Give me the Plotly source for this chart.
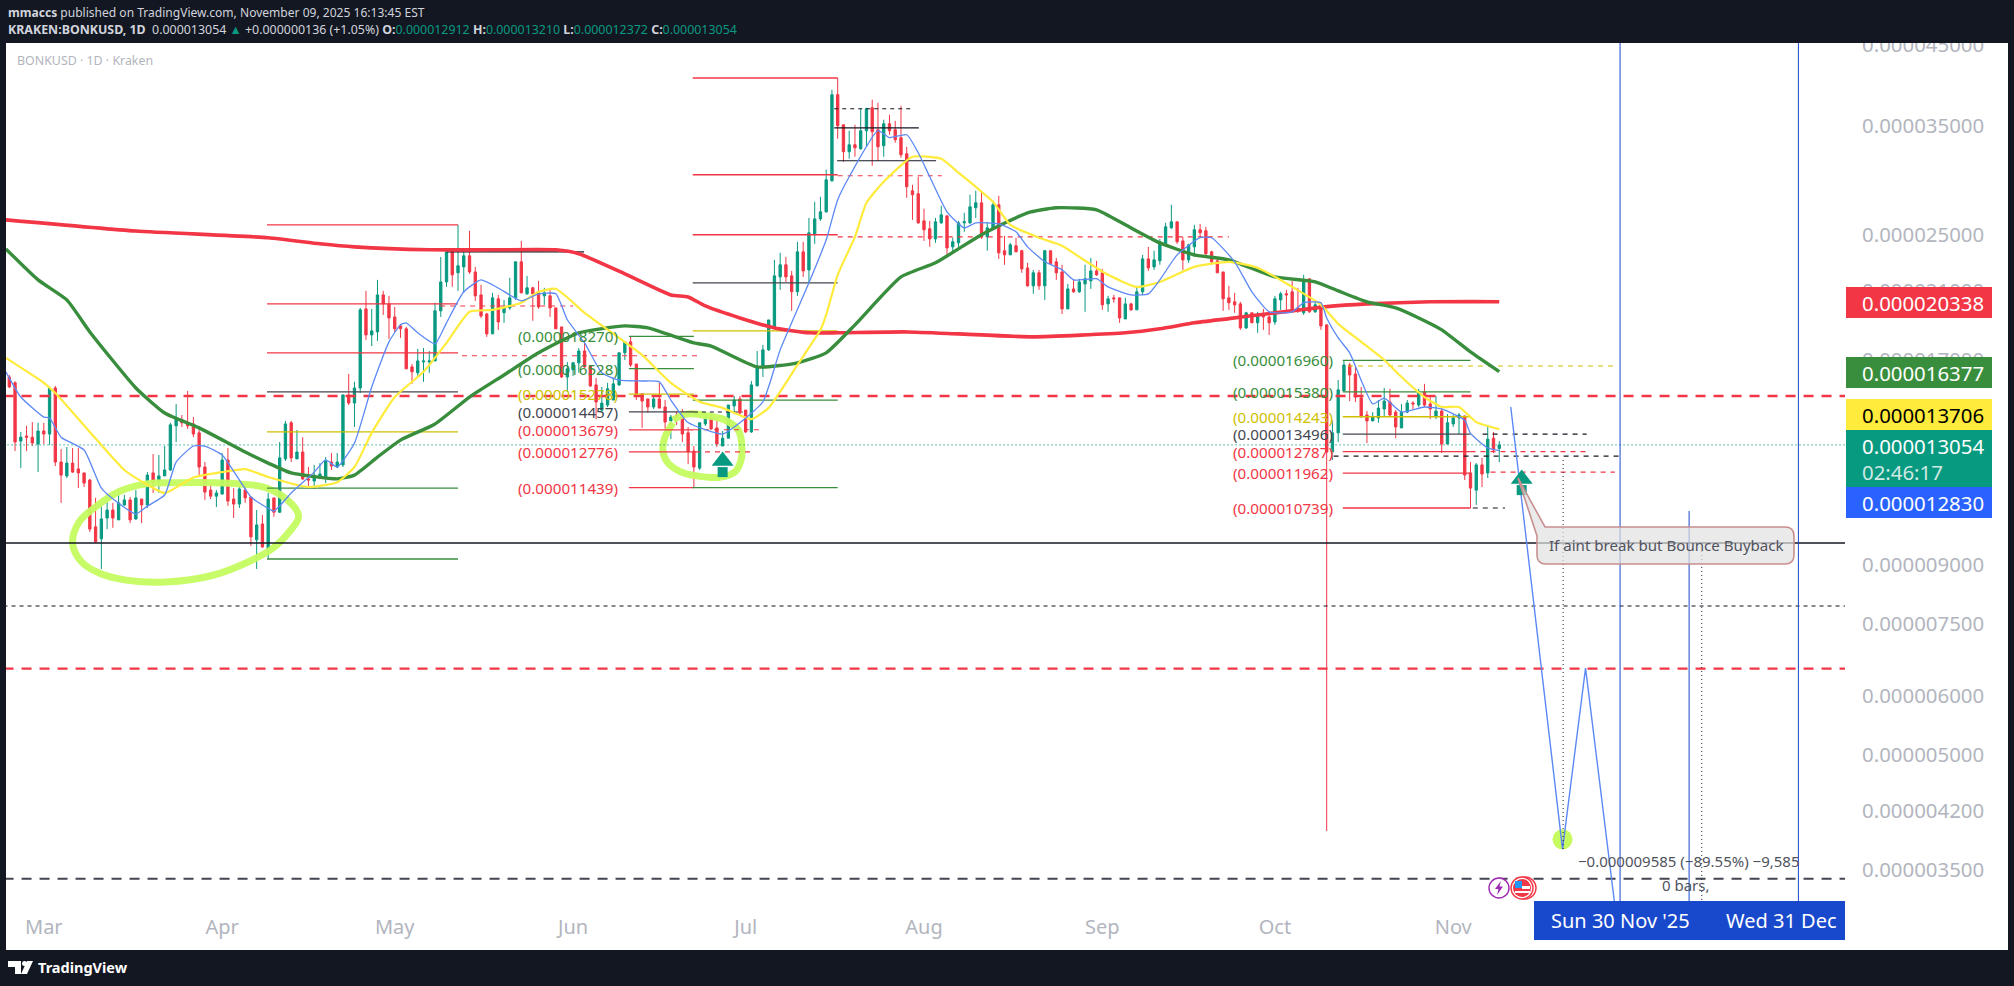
import datetime as dt
import numpy as np
import plotly.graph_objects as go

# prices are kept in millionths of a dollar, PRICE_UNIT turns them back
PRICE_UNIT = 1e-6
START = dt.datetime(2025, 2, 23)

opens = [16.11,15.82,13.21,13.42,13.37,13.09,13.63,13.50,15.57,12.38,
11.86,12.34,12.12,11.97,11.71,10.13,9.76,10.41,10.67,10.35,
10.84,11.01,10.38,11.04,10.84,11.97,11.64,11.86,12.08,13.85,
14.10,13.98,13.93,13.55,12.19,11.35,11.14,11.21,12.46,11.04,
10.87,11.35,11.11,9.73,10.22,9.46,11.08,10.60,12.50,13.98,
12.50,12.77,11.75,11.67,11.78,11.78,12.38,12.19,12.27,15.24,
14.86,15.57,19.89,18.35,18.52,20.77,20.20,19.40,18.87,18.70,
16.62,16.32,16.88,16.88,16.93,19.77,21.62,23.88,22.24,22.65,
23.44,22.30,20.77,19.58,18.41,20.52,19.65,19.95,20.58,23.01,
20.84,21.23,20.90,20.71,20.71,19.95,18.81,16.11,16.47,16.83,
17.46,16.67,15.72,14.54,14.77,15.00,15.72,17.36,17.96,16.77,
15.29,15.05,14.68,15.05,14.68,14.06,14.32,14.23,13.55,12.81,
12.15,13.93,14.19,13.76,13.01,13.33,14.73,15.05,14.54,13.59,
15.67,16.57,17.52,18.81,21.96,22.80,22.03,20.97,23.73,22.44,
25.02,26.28,26.86,29.57,38.60,35.17,32.35,33.06,32.65,34.52,
37.08,34.63,32.96,35.28,34.63,33.79,32.15,28.67,28.41,26.12,
25.49,24.70,25.96,26.53,24.10,24.40,25.96,25.96,27.20,27.62,
24.86,25.49,27.45,23.81,23.51,24.18,23.81,22.58,21.36,22.24,
21.36,23.81,23.01,22.30,19.89,21.16,20.97,21.49,21.69,22.37,
22.24,20.20,20.58,20.58,19.28,20.20,19.83,20.97,23.22,22.65,
23.08,24.33,25.56,26.04,24.55,23.15,24.10,25.41,25.33,23.73,
23.08,22.30,20.58,20.33,20.20,18.75,19.65,19.05,19.58,19.40,
19.10,20.45,20.84,20.97,19.95,19.65,21.83,19.71,20.14,18.93,
12.77,13.55,15.43,16.72,16.26,15.10,14.32,14.06,14.19,14.59,
14.91,14.45,13.76,14.45,14.86,14.77,15.38,14.82,14.28,14.50,
13.09,13.93,14.19,14.28,11.97,11.35,12.27,11.97,13.33,12.912]

highs = [16.21,15.90,13.59,13.85,14.01,13.98,13.98,15.57,15.67,12.89,
12.97,12.93,12.93,11.97,11.75,11.08,10.77,10.94,10.91,11.35,
11.18,11.11,11.35,11.04,12.00,12.69,12.65,13.01,13.98,14.82,
14.32,15.43,14.23,13.80,12.38,11.60,11.35,12.73,12.93,11.42,
11.46,11.53,11.11,10.67,10.51,11.25,11.08,13.17,14.06,14.06,
13.67,13.37,12.19,12.27,12.34,12.57,12.73,12.73,15.24,16.26,
15.87,19.95,21.03,19.89,21.76,21.03,20.71,20.01,18.99,18.81,
16.77,17.57,17.62,17.46,20.27,23.36,23.95,23.88,25.80,23.73,
25.33,22.65,21.43,19.65,20.90,20.77,20.45,21.90,23.01,24.55,
22.03,21.30,21.69,21.23,21.10,19.95,18.81,16.88,16.88,17.62,
18.07,16.72,16.06,15.62,15.82,16.06,17.41,17.96,18.24,16.77,
15.29,15.05,15.19,15.82,15.00,14.32,14.50,14.59,13.80,13.01,
13.98,14.45,14.36,14.10,13.63,14.77,15.19,15.19,14.54,15.91,
17.46,17.79,19.22,23.15,23.66,23.36,22.37,24.48,24.48,26.36,
27.71,28.14,30.60,39.20,40.65,35.17,34.52,35.17,36.96,37.08,
38.00,37.65,35.72,36.28,35.61,37.30,32.85,29.21,29.94,27.12,
26.12,26.36,27.37,26.53,24.79,26.12,26.78,28.32,28.67,28.50,
26.04,27.80,28.23,24.94,24.40,24.79,23.88,22.94,22.44,22.44,
23.88,23.81,23.29,22.80,21.49,21.76,21.83,22.80,23.29,23.08,
22.51,20.71,20.77,20.58,20.58,20.27,21.30,23.51,24.10,23.81,
24.70,25.96,27.45,26.04,24.86,24.33,25.80,25.88,25.64,23.81,
23.22,22.30,21.36,20.90,20.33,19.71,19.65,19.71,19.89,19.58,
20.71,20.97,21.10,21.69,21.23,22.10,21.83,20.45,20.27,18.93,
14.10,15.96,16.93,16.83,16.62,15.62,14.50,14.45,15.00,15.57,
15.53,14.54,14.82,15.00,14.95,15.53,15.77,15.14,15.19,14.59,
14.36,14.32,14.41,14.28,12.38,12.34,12.54,13.80,13.59,13.21]

lows = [15.57,12.81,12.15,12.81,13.01,12.00,13.09,13.05,12.23,10.91,
11.78,11.97,11.42,11.46,9.97,9.64,8.89,10.06,10.10,10.35,
10.81,10.25,10.35,10.25,10.74,11.25,11.25,11.86,12.04,13.17,
13.80,13.72,13.37,11.89,11.01,11.04,10.77,11.21,10.81,10.41,
10.74,10.91,9.55,8.89,9.49,9.17,10.45,10.57,12.42,12.38,
12.50,11.71,11.42,11.39,11.75,11.60,12.08,12.15,12.19,14.77,
13.80,15.33,18.07,17.73,18.01,19.52,18.12,18.52,18.18,16.52,
15.77,16.16,15.87,16.32,16.93,19.40,21.30,21.30,21.03,20.90,
22.17,20.39,19.34,18.24,18.41,18.64,19.05,19.83,20.45,20.90,
20.77,19.17,19.89,20.14,19.40,18.70,16.06,15.38,16.16,16.32,
16.57,15.62,14.14,14.45,14.68,15.00,15.67,16.98,16.62,15.00,
13.76,14.41,14.59,14.63,13.72,13.29,13.89,13.17,12.30,11.46,
12.08,13.85,13.67,12.97,13.01,13.33,14.36,14.32,13.55,13.55,
15.67,16.11,17.46,18.75,21.10,21.62,19.77,20.71,21.96,21.56,
24.33,26.12,26.78,29.48,33.68,31.36,31.66,31.85,32.55,32.85,
30.98,31.46,31.85,34.10,33.27,31.75,28.05,26.20,25.88,24.55,
24.10,24.40,25.88,23.44,23.59,24.10,25.25,25.88,26.36,24.70,
23.81,25.49,23.22,22.80,23.51,23.73,22.24,21.30,20.84,21.10,
20.45,22.80,21.76,19.58,19.89,20.90,20.90,19.71,21.16,22.03,
19.83,19.71,20.27,19.05,19.28,19.77,19.83,20.77,22.37,22.44,
22.80,24.10,25.49,24.33,22.44,22.94,23.36,24.79,23.51,22.80,
22.24,19.77,19.83,19.65,18.64,18.70,19.05,18.47,18.64,18.35,
18.93,19.83,19.83,19.71,19.65,19.52,19.65,19.65,18.64,3.95,
12.46,13.17,15.43,14.95,14.91,14.19,13.13,14.06,13.98,14.28,
14.28,13.33,13.76,14.41,14.59,14.68,14.68,14.14,14.14,12.73,
13.09,13.80,13.50,11.71,10.74,10.84,11.46,11.78,12.73,12.372]

closes = [15.62,13.17,13.37,13.37,13.13,13.63,13.50,15.57,12.38,11.89,
12.34,12.00,11.97,11.60,10.06,9.67,10.38,10.67,10.41,10.91,
11.01,10.35,11.08,10.84,11.89,11.60,11.86,12.08,13.89,14.14,
13.98,13.85,13.50,12.19,11.28,11.14,11.25,12.46,10.97,10.87,
11.39,11.08,9.82,10.19,9.52,11.04,10.60,12.54,13.93,12.54,
12.77,11.75,11.71,11.89,11.93,12.42,12.23,12.38,15.24,14.86,
15.57,19.83,18.35,18.58,20.77,20.20,19.34,18.70,18.70,16.52,
16.37,16.93,16.93,16.93,19.77,21.62,23.73,22.10,22.73,23.44,
22.30,20.71,19.46,18.41,20.58,19.10,20.01,20.58,23.01,20.90,
21.23,20.84,20.01,20.90,19.95,18.70,16.11,16.52,16.83,17.46,
16.62,15.67,14.91,14.86,15.53,15.77,17.36,17.96,16.72,15.29,
14.95,14.68,15.05,14.63,14.01,14.23,14.19,13.50,12.77,12.19,
13.98,14.19,13.72,13.09,13.33,14.77,15.00,14.41,13.59,15.72,
16.62,17.52,19.22,22.03,22.80,21.96,20.97,23.73,22.37,25.17,
26.28,26.86,29.66,38.60,35.06,32.35,33.06,32.75,34.52,36.96,
34.42,32.85,35.28,34.52,33.58,32.05,29.03,28.32,25.96,25.41,
24.70,26.04,26.61,24.02,24.48,25.96,26.04,27.28,27.62,24.86,
25.56,27.45,23.66,23.51,24.25,23.73,22.51,21.36,22.24,21.36,
23.81,22.87,22.24,19.89,21.16,20.97,21.62,21.83,22.37,22.10,
20.14,20.52,20.52,19.34,20.20,19.83,20.97,23.22,22.58,23.15,
24.48,25.64,26.04,24.48,23.15,24.25,25.41,25.17,23.59,23.01,
22.24,20.52,20.27,20.14,18.75,19.65,19.05,19.58,19.40,19.05,
20.52,20.84,20.77,19.89,19.77,21.76,19.71,20.14,18.87,12.77,
13.55,15.48,16.72,16.21,15.14,14.28,14.06,14.23,14.63,14.95,
14.32,13.80,14.45,14.86,14.82,15.33,14.77,14.59,14.50,13.09,
13.98,14.19,14.32,11.89,11.42,12.27,11.93,13.29,12.85,13.054]

# moving averages at the day numbers given (0 = first candle)
red_days = [-0.6,22,45,54,60,73,84,95,99,107,115,118,121,127,133,139,144,156,165,178,194,200,206,212,217,223,229,236,247,259]
red_vals = [26.20,25.31,24.79,24.33,24.10,23.88,23.88,23.88,23.59,22.17,20.77,20.64,20.07,19.34,18.75,18.47,18.47,18.52,18.41,18.24,18.47,18.70,19.05,19.30,19.52,19.77,20.03,20.20,20.33,20.338]

green_days = [-0.6,5,10,14,22,27,33,41,45,49,57,60,64,68,74,80,86,92,99,107,111,119,122,130,137,142,147,155,161,169,177,182,189,194,200,206,212,220,227,231,236,241,245,249,254,259]
green_vals = [23.95,21.76,20.45,18.52,15.57,14.41,13.76,12.77,12.34,11.97,11.75,11.89,12.57,13.25,13.93,15.14,16.21,17.36,18.47,18.87,18.75,17.90,17.73,16.62,16.83,17.36,18.93,21.96,22.94,25.02,26.78,27.20,27.03,25.80,24.40,23.51,23.15,21.96,21.63,21.03,20.33,19.95,19.34,18.64,17.41,16.377]

yellow_days = [-0.6,6,8,14,20,23,27,32,37,41,45,52,57,60,63,67,72,76,80,84,89,92,95,100,106,110,115,120,124,129,132,137,141,142,144,147,149,152,157,162,165,168,171,174,179,183,186,191,196,200,206,212,217,223,228,231,235,239,242,246,249,252,255,259]
yellow_vals = [17.09,15.82,15.33,13.59,12.08,11.66,11.25,11.80,12.00,12.11,11.82,11.46,11.63,12.19,13.55,15.14,16.37,17.90,19.71,19.83,20.27,20.97,21.17,19.65,18.18,17.25,15.82,14.92,14.64,14.14,14.64,16.72,18.64,19.52,22.10,24.86,27.62,29.49,31.85,31.65,30.31,29.02,27.71,25.80,24.79,24.19,23.36,22.10,21.29,21.62,22.65,23.01,22.59,21.29,20.14,18.99,17.96,16.98,16.11,15.14,14.68,14.68,14.01,13.706]

blue_days = [-0.6,2,6,7,9,13,16,19,22,24,27,29,32,34,37,42,44,46,49,53,55,57,60,63,66,68,69,71,74,76,79,82,85,89,92,95,97,100,103,106,110,113,115,118,124,127,131,134,139,142,144,146,151,153,156,158,160,163,166,168,172,175,177,180,183,185,189,191,195,198,200,203,207,209,213,216,219,223,225,228,229,231,233,237,239,242,246,249,253,254,257,259]
blue_vals = [16.37,15.14,14.23,14.19,13.37,12.85,11.42,10.90,10.54,10.80,11.18,12.38,13.01,13.01,12.65,11.11,10.84,10.64,11.25,12.00,12.46,12.19,13.13,15.62,17.96,18.93,19.05,18.47,17.85,19.05,20.97,21.76,21.22,20.39,20.84,20.84,19.23,17.90,16.32,15.95,15.91,15.87,15.00,13.99,13.50,13.98,14.92,17.52,21.56,24.63,27.88,29.94,34.53,33.80,34.10,32.25,29.94,26.86,25.56,25.96,25.88,25.25,24.10,23.01,22.45,21.76,21.84,21.29,20.77,20.84,21.76,23.51,24.79,24.79,23.01,20.97,19.71,19.71,20.27,20.27,19.34,18.18,17.36,14.82,15.09,14.45,14.68,14.59,14.09,13.53,12.93,12.83]

# drawn forecast path
path_days = [261,270,274,279]
path_vals = [14.68,3.736,6.54,3.18]

# hand drawn rings
ring1_days = [49.0,50.3,48.7,45.8,41.7,35.4,27.2,20.3,15.6,12.5,11.0,12.2,15.1,19.1,23.8,29.6,35.4,40.0,44.6,49.0]
ring1_vals = [10.89,10.46,9.98,9.48,9.10,8.72,8.54,8.59,8.78,9.10,9.63,10.30,10.79,11.30,11.57,11.61,11.61,11.57,11.43,10.89]
ring2_days = [115.4,114.0,113.6,114.3,116.6,119.5,123.5,126.2,127.2,127.3,126.7,124.4,121.2,117.7,115.4]
ring2_vals = [13.98,13.39,12.85,12.40,12.02,11.86,11.81,12.02,12.46,13.13,13.67,14.10,14.29,14.36,14.10]

# fibonacci style levels
fib2_vals = [18.270,16.528,15.278,14.457,13.679,12.776,11.439]
fib2_text = ["(0.000018270)","(0.000016528)","(0.000015278)","(0.000014457)","(0.000013679)","(0.000012776)","(0.000011439)"]
fib4_vals = [16.960,15.380,14.243,13.496,12.787,11.962,10.739]
fib4_text = ["(0.000016960)","(0.000015380)","(0.000014243)","(0.000013496)","(0.000012787)","(0.000011962)","(0.000010739)"]
fib1_vals = [25.80,20.20,17.36,15.38,13.59,11.42,9.17]
fib3_vals = [40.65,30.13,25.02,21.56,18.58,15.00,11.44]

tick_vals = [45000,35000,25000,21000,17000,9000,7500,6000,5000,4200,3500]
tick_text = ["0.000045000","0.000035000","0.000025000","0.000021000","0.000017000","0.000009000","0.000007500","0.000006000","0.000005000","0.000004200","0.000003500"]
month_days = [6,37,67,98,128,159,190,220,251]
month_text = ["Mar","Apr","May","Jun","Jul","Aug","Sep","Oct","Nov"]

RED = "#f23645"
GREEN = "#388e3c"
YELLOW = "#ffeb3b"
OLIVE = "#cfc000"
DARK = "#434651"
TEAL = "#089981"
MA_BLUE = "#5c88f5"
LINE_BLUE = "#1848cc"
LIME = "#c6fb60"
FRAME = "#131722"
FONT = "Noto Sans"


def day(i):
    return (START + dt.timedelta(days=float(i))).strftime("%Y-%m-%d %H:%M:%S")


def prices(vals):
    return [v * PRICE_UNIT for v in vals]


def px(x):
    return (x - 6) / 1839


def py(y):
    return (901 - y) / 858


dates = [day(i) for i in range(len(closes))]

fig = go.Figure()


def segment(d0, d1, val, color, dash="solid", width=1.3):
    fig.add_trace(go.Scatter(x=[day(d0), day(d1)], y=prices([val, val]), mode="lines",
                             line=dict(color=color, dash=dash, width=width),
                             hoverinfo="skip", showlegend=False))


def vertical(d, v0, v1, color, dash="solid", width=1.0):
    fig.add_trace(go.Scatter(x=[day(d), day(d)], y=prices([v0, v1]), mode="lines",
                             line=dict(color=color, dash=dash, width=width),
                             hoverinfo="skip", showlegend=False))


# rings sit under everything else that is a line
for rd, rv in [(ring1_days, ring1_vals), (ring2_days, ring2_vals)]:
    fig.add_trace(go.Scatter(x=[day(d) for d in rd], y=prices(rv), mode="lines",
                             line=dict(color=LIME, width=7, shape="spline"),
                             opacity=0.95, hoverinfo="skip", showlegend=False))

fig.add_trace(go.Candlestick(x=dates, open=prices(opens), high=prices(highs), low=prices(lows), close=prices(closes),
                             increasing=dict(line=dict(color=TEAL, width=1), fillcolor=TEAL),
                             decreasing=dict(line=dict(color=RED, width=1), fillcolor=RED),
                             whiskerwidth=0, showlegend=False))

# full width levels
segment(-1, 320, 15.19, RED, "10px,8px", 2.6)
segment(-1, 320, 9.634, "#131722", "solid", 1.4)
segment(-1, 320, 7.93, "#131722", "4px,4px", 1.1)
segment(-1, 320, 6.53, RED, "10px,8px", 2.2)
segment(-1, 320, 3.408, DARK, "10px,8px", 2.2)
segment(-1, 320, 13.054, TEAL, "1px,3px", 1.2)

# first fib, april to may
fib_colors = [RED, RED, RED, DARK, OLIVE, GREEN, GREEN]
for v, c in zip(fib1_vals, fib_colors):
    segment(44.8, 78.0, v, c)
segment(76.1, 99.9, 23.73, "#131722", "solid", 1.2)
segment(74.9, 98.0, 20.07, RED, "5px,5px", 1.1)
segment(78.7, 119.9, 17.20, RED, "5px,5px", 1.1)

# june fib with its labels
fib2_colors = [GREEN, GREEN, OLIVE, DARK, RED, RED, RED]
for v, c in zip(fib2_vals, fib2_colors):
    segment(107.7, 119.0, v, c)
segment(119.0, 127.5, 14.457, "#131722", "4px,4px", 1.1)
segment(119.0, 131.0, 13.679, RED, "5px,5px", 1.1)
segment(119.2, 128.8, 12.776, RED, "5px,5px", 1.1)

# july fib
for v, c in zip(fib3_vals, fib_colors):
    segment(118.8, 144.0, v, c)
segment(143.4, 157.3, 36.96, "#131722", "4px,4px", 1.1)
segment(143.4, 158.1, 34.84, "#131722", "solid", 1.2)
segment(143.9, 161.1, 31.46, "#131722", "solid", 1.2)
segment(144.0, 162.1, 30.03, RED, "5px,5px", 1.1)
segment(144.0, 212.0, 24.86, RED, "5px,5px", 1.1)

# october fib
for v, c in zip(fib4_vals, fib2_colors):
    segment(231.8, 254.0, v, c)
segment(256.1, 274.2, 13.496, "#131722", "5px,5px", 1.1)
segment(254.0, 274.2, 12.787, RED, "5px,5px", 1.1)
segment(230.2, 280.0, 12.61, "#131722", "5px,5px", 1.1)
segment(257.5, 279.1, 12.00, RED, "5px,5px", 1.1)
segment(254.4, 260.0, 10.739, "#131722", "5px,5px", 1.1)
segment(232.7, 279.6, 16.67, OLIVE, "5px,5px", 1.1)

# moving averages
for ma_days, ma_vals, color, width in [(red_days, red_vals, RED, 3.6), (green_days, green_vals, GREEN, 3.4),
                                       (yellow_days, yellow_vals, YELLOW, 2.2), (blue_days, blue_vals, MA_BLUE, 1.3)]:
    fig.add_trace(go.Scatter(x=[day(d) for d in ma_days], y=prices(ma_vals), mode="lines",
                             line=dict(color=color, width=width, shape="spline", smoothing=0.5),
                             hoverinfo="skip", showlegend=False))

# projection path, date markers
fig.add_trace(go.Scatter(x=[day(270)], y=prices([3.85]), mode="markers",
                         marker=dict(color=LIME, size=20), hoverinfo="skip", showlegend=False))
fig.add_trace(go.Scatter(x=[day(d) for d in path_days], y=prices(path_vals), mode="lines",
                         line=dict(color=MA_BLUE, width=1.4), hoverinfo="skip", showlegend=False))
vertical(280, 3.0, 46, LINE_BLUE)
vertical(311, 3.0, 46, LINE_BLUE)
vertical(292, 3.0, 10.64, LINE_BLUE)
vertical(270.1, 3.736, 12.53, "#131722", "1px,3px")
vertical(294.2, 3.0, 9.43, "#131722", "1px,3px")

# up arrows
for d, head, shaft in [(124, 12.42, 12.00), (262.9, 11.75, 11.35)]:
    fig.add_trace(go.Scatter(x=[day(d)], y=prices([head]), mode="markers",
                             marker=dict(symbol="triangle-up", color=TEAL, size=19),
                             hoverinfo="skip", showlegend=False))
    fig.add_trace(go.Scatter(x=[day(d)], y=prices([shaft]), mode="markers",
                             marker=dict(symbol="square", color=TEAL, size=10),
                             hoverinfo="skip", showlegend=False))

shapes = [
    # white chart card and the dark bar over the clipped top tick
    dict(type="rect", xref="paper", yref="paper", x0=px(6), x1=px(2008), y0=py(950), y1=py(43),
         fillcolor="white", line_width=0, layer="below"),
    dict(type="rect", xref="paper", yref="paper", x0=px(0), x1=px(2014), y0=py(43), y1=py(0),
         fillcolor=FRAME, line_width=0, layer="above"),
]


def box(x0, x1, y0, y1, color):
    shapes.append(dict(type="rect", xref="paper", yref="paper", x0=px(x0), x1=px(x1), y0=py(y1), y1=py(y0),
                       fillcolor=color, line_width=0, layer="above"))


def pth(points):
    return "M " + " L ".join("%f,%f" % (px(a), py(b)) for a, b in points) + " Z"


# time axis date flags
box(1534, 1845, 901, 940, LINE_BLUE)
# last value flags on the price scale
box(1846, 1992, 287, 318, RED)
box(1846, 1992, 357, 388, GREEN)
box(1846, 1992, 399, 430, YELLOW)
box(1846, 1992, 430, 487, TEAL)
box(1846, 1992, 487, 518, "#2962ff")

# callout
c = "M %f,%f L %f,%f Q %f,%f %f,%f L %f,%f Q %f,%f %f,%f L %f,%f Q %f,%f %f,%f L %f,%f L %f,%f Z" % (
    px(1545), py(527), px(1785), py(527), px(1794), py(527), px(1794), py(536), px(1794), py(555),
    px(1794), py(564), px(1785), py(564), px(1546), py(564), px(1537), py(564), px(1537), py(555),
    px(1537), py(536), px(1518), py(478))
shapes.append(dict(type="path", xref="paper", yref="paper", path=c,
                   fillcolor="rgba(225,225,225,0.7)", line=dict(color="#c98f8f", width=1.6), layer="above"))

# event icons
shapes.append(dict(type="circle", xref="paper", yref="paper", x0=px(1514), x1=px(1536), y0=py(899), y1=py(877),
                   fillcolor="white", line=dict(color=RED, width=1.4), layer="above"))
shapes.append(dict(type="circle", xref="paper", yref="paper", x0=px(1511), x1=px(1533), y0=py(899), y1=py(877),
                   fillcolor="white", line=dict(color=RED, width=1.4), layer="above"))
shapes.append(dict(type="circle", xref="paper", yref="paper", x0=px(1513), x1=px(1531), y0=py(897), y1=py(879),
                   fillcolor=RED, line_width=0, layer="above"))
box(1515, 1522, 881, 888, "#2196f3")
box(1522, 1530, 886, 889, "white")
box(1515, 1530, 891, 893, "white")
shapes.append(dict(type="circle", xref="paper", yref="paper", x0=px(1489), x1=px(1509), y0=py(898), y1=py(878),
                   fillcolor="white", line=dict(color="#9c27b0", width=1.4), layer="above"))
shapes.append(dict(type="path", xref="paper", yref="paper", line_width=0, fillcolor="#9c27b0", layer="above",
                   path=pth([(1501, 881), (1495, 889), (1498.5, 889), (1497, 895), (1503, 886.5), (1499.5, 886.5)])))

# tradingview logo
shapes.append(dict(type="path", xref="paper", yref="paper", line_width=0, fillcolor="white", layer="above",
                   path=pth([(8, 961), (21, 961), (21, 974), (15, 974), (15, 967), (8, 967)])))
shapes.append(dict(type="circle", xref="paper", yref="paper", x0=px(22), x1=px(27), y0=py(966), y1=py(961),
                   fillcolor="white", line_width=0, layer="above"))
shapes.append(dict(type="path", xref="paper", yref="paper", line_width=0, fillcolor="white", layer="above",
                   path=pth([(27, 961), (33, 961), (27, 974), (21, 974)])))

annotations = []


def label(text, x, y, size, color, anchor="left"):
    annotations.append(dict(text=text, xref="paper", yref="paper", x=px(x), y=py(y), showarrow=False,
                            xanchor=anchor, yanchor="middle", align=anchor,
                            font=dict(family=FONT, size=size, color=color)))


def teal(s):
    return "<span style='color:%s'>%s</span>" % (TEAL, s)


label("<b>mmaccs</b> published on TradingView.com, November 09, 2025 16:13:45 EST", 6, 12.5, 12.05, "#d1d4dc")
label("<b>KRAKEN:BONKUSD, 1D</b>  0.000013054 " + teal("▲") + " +0.000000136 (+1.05%) <b>O:</b>" + teal("0.000012912")
      + " <b>H:</b>" + teal("0.000013210") + " <b>L:</b>" + teal("0.000012372") + " <b>C:</b>" + teal("0.000013054"),
      6, 29.5, 12.4, "#d1d4dc")
label("BONKUSD · 1D · Kraken", 15, 61, 12.4, "#b2b5be")
label("<b>TradingView</b>", 36, 967, 14.5, "white")

for text, y, color in [("0.000020338", 303, "white"), ("0.000016377", 373, "white"), ("0.000013706", 415, "black"),
                       ("0.000013054", 446, "white"), ("02:46:17", 472, "#cfe9e3"), ("0.000012830", 503, "white")]:
    label(text, 1860, y, 20.4, color)

label("Sun 30 Nov '25", 1620, 920, 20, "white", "center")
label("Wed 31 Dec", 1781, 920, 20, "white", "center")

label("If aint break but Bounce Buyback", 1666, 545, 15.1, "#50535e", "center")
label("−0.000009585 (−89.55%) −9,585", 1689, 861, 15, "#50535e", "center")
label("0 bars,", 1686, 885, 15, "#50535e", "center")

for texts, vals, colors, d in [(fib2_text, fib2_vals, fib2_colors, 106.2), (fib4_text, fib4_vals, fib2_colors, 230.5)]:
    for text, v, color in zip(texts, vals, colors):
        annotations.append(dict(text=text, xref="x", yref="y", x=day(d), y=np.log10(v * PRICE_UNIT), showarrow=False,
                                xanchor="right", yanchor="middle",
                                font=dict(family=FONT, size=15.2, color=color)))

fig.update_layout(
    width=2014, height=986,
    margin=dict(l=6, r=169, t=43, b=85),
    paper_bgcolor=FRAME, plot_bgcolor="white",
    showlegend=False, boxgap=0.42,
    shapes=shapes, annotations=annotations,
    font=dict(family=FONT),
)
fig.update_xaxes(type="date", range=[day(-0.574), day(319.1)], rangeslider_visible=False,
                 showgrid=False, zeroline=False, showline=False,
                 tickmode="array", tickvals=[day(d) for d in month_days], ticktext=month_text,
                 ticks="outside", ticklen=8, tickcolor="white",
                 tickfont=dict(family=FONT, size=20, color="#b2b5be"))
fig.update_yaxes(type="log", side="right", range=[np.log10(3.181e-6), np.log10(4.530e-5)],
                 showgrid=False, zeroline=False, showline=False,
                 tickmode="array", tickvals=[v * 1e-9 for v in tick_vals], ticktext=tick_text,
                 ticks="outside", ticklen=12, tickcolor="white",
                 tickfont=dict(family=FONT, size=20.4, color="#b2b5be"))

fig.write_html("out.html", config=dict(displayModeBar=False),
               post_script="document.body.style.margin='0';document.body.style.background='%s';" % FRAME)
